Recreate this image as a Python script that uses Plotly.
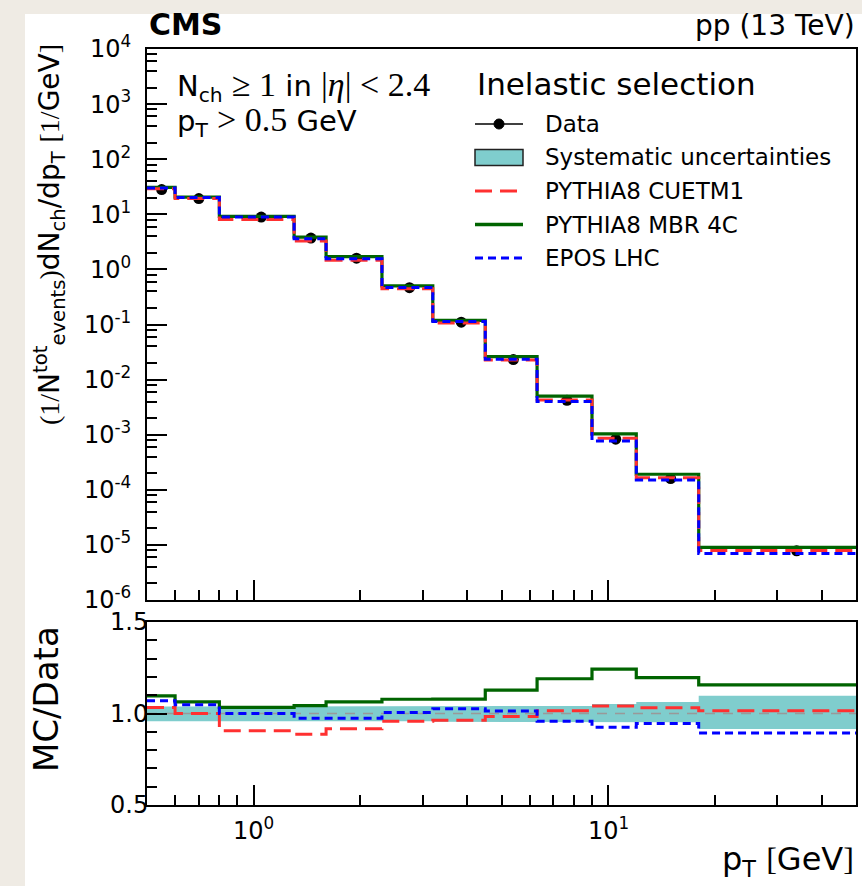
import numpy as np
import plotly.graph_objects as go

# ---------------- data ----------------
bin_edges = [0.5, 0.6, 0.8, 1.3, 1.6, 2.3, 3.2, 4.5, 6.3, 9.0, 12.0, 18.0, 50.0]
bin_centers = [0.55, 0.7, 1.05, 1.45, 1.95, 2.75, 3.85, 5.4, 7.65, 10.5, 15.0, 34.0]
data_vals = [28.1, 19.3, 8.9, 3.7, 1.6, 0.465, 0.110, 0.0231, 4.2e-3, 8.3e-4, 1.6e-4, 7.8e-6]

ratio_cuetm1 = [1.033, 1.000, 0.906, 0.887, 0.916, 0.958, 0.963, 0.983, 1.015, 1.041, 1.032, 1.015]
ratio_mbr4c = [1.096, 1.063, 1.033, 1.043, 1.064, 1.078, 1.079, 1.128, 1.190, 1.243, 1.196, 1.156]
ratio_epos = [1.069, 1.048, 1.000, 0.974, 0.974, 1.006, 1.026, 1.014, 0.958, 0.925, 0.946, 0.893]

sys_up = [0.038, 0.038, 0.038, 0.038, 0.038, 0.039, 0.041, 0.041, 0.041, 0.052, 0.063, 0.097]
sys_dn = [0.042, 0.042, 0.042, 0.042, 0.042, 0.043, 0.045, 0.045, 0.047, 0.047, 0.048, 0.085]

legend_labels = ["Data", "Systematic uncertainties", "PYTHIA8 CUETM1", "PYTHIA8 MBR 4C", "EPOS LHC"]

y_tick_vals = [1e-6, 1e-5, 1e-4, 1e-3, 1e-2, 1e-1, 1e0, 1e1, 1e2, 1e3, 1e4]
y_tick_text = ["10<sup>-6</sup>", "10<sup>-5</sup>", "10<sup>-4</sup>", "10<sup>-3</sup>",
               "10<sup>-2</sup>", "10<sup>-1</sup>", "10<sup>0</sup>", "10<sup>1</sup>",
               "10<sup>2</sup>", "10<sup>3</sup>", "10<sup>4</sup>"]
x_tick_vals = [1, 10]
x_tick_text = ["10<sup>0</sup>", "10<sup>1</sup>"]
r_tick_vals = [0.5, 1.0, 1.5]
r_tick_text = ["0.5", "1.0", "1.5"]

# ---------------- geometry ----------------
W, H = 862, 886
def px(x):
    return x / W
def py(y):
    return 1 - y / H

FONT = "DejaVu Sans"
SERIF = "Liberation Serif"
RED = "#ff3030"
GREEN = "#006400"
BLUE = "#0000ff"
TEAL = "#7fcdcd"
RED_DASH = "17px,8px"
BLUE_DASH = "8px,5px"

edges = np.array(bin_edges)
data = np.array(data_vals)

def step_y(vals):
    v = list(vals)
    return v + [v[-1]]

fig = go.Figure()

# ----- lower panel: systematic band -----
bx, byu, byl = [], [], []
for i in range(len(data)):
    bx += [edges[i], edges[i + 1]]
    byu += [1 + sys_up[i]] * 2
    byl += [1 - sys_dn[i]] * 2
fig.add_trace(go.Scatter(x=bx + bx[::-1], y=byu + byl[::-1], fill="toself",
                         fillcolor=TEAL, line=dict(width=0), mode="lines",
                         name=legend_labels[1],
                         xaxis="x2", yaxis="y2", showlegend=False, hoverinfo="skip"))
fig.add_trace(go.Scatter(x=[edges[0], edges[-1]], y=[1, 1], mode="lines",
                         line=dict(color="#999999", width=1.5, dash="10px,8px"),
                         xaxis="x2", yaxis="y2", showlegend=False, hoverinfo="skip"))

# ----- top panel: data -----
fig.add_trace(go.Scatter(x=bin_centers, y=data, mode="markers",
                         marker=dict(color="black", size=11, symbol="circle"),
                         xaxis="x", yaxis="y", showlegend=False, name=legend_labels[0]))

models = [
    (legend_labels[3], ratio_mbr4c, dict(color=GREEN, width=3.2)),
    (legend_labels[2], ratio_cuetm1, dict(color=RED, width=3, dash=RED_DASH)),
    (legend_labels[4], ratio_epos, dict(color=BLUE, width=3, dash=BLUE_DASH)),
]
for name, ratio, line in models:
    ratio = np.array(ratio)
    fig.add_trace(go.Scatter(x=edges, y=step_y(data * ratio), mode="lines", line_shape="hv",
                             line=line, name=name, xaxis="x", yaxis="y", showlegend=False))
    fig.add_trace(go.Scatter(x=edges, y=step_y(ratio), mode="lines", line_shape="hv",
                             line=line, name=name, xaxis="x2", yaxis="y2", showlegend=False))

xr = [np.log10(bin_edges[0]), np.log10(bin_edges[-1])]
minor_x = [0.6, 0.7, 0.8, 0.9, 2, 3, 4, 5, 6, 7, 8, 9, 20, 30, 40]
minor_y = [m * 10.0 ** k for k in range(-6, 4) for m in (2, 4, 6, 8)]

axis_common = dict(showline=True, linecolor="black", linewidth=2, mirror=True,
                   showgrid=False, zeroline=False, ticks="inside", tickcolor="black",
                   tickwidth=1.5, automargin=False,
                   tickfont=dict(family=FONT, size=24, color="black"))

# ----- manual legend (samples as shapes, labels as annotations) -----
leg_x0, leg_x1 = 475, 523
leg_text_x = 543
row_y = [124, 157.5, 191, 224.5, 258]

shapes = [dict(type="rect", xref="paper", yref="paper", x0=px(25), x1=1.0,
               y0=0, y1=py(14), fillcolor="white", line=dict(width=0), layer="below")]
# Data sample
shapes.append(dict(type="line", xref="paper", yref="paper", x0=px(leg_x0), x1=px(leg_x1),
                   y0=py(row_y[0]), y1=py(row_y[0]), line=dict(color="black", width=1.5)))
cx = (leg_x0 + leg_x1) / 2
shapes.append(dict(type="circle", xref="paper", yref="paper", x0=px(cx - 5), x1=px(cx + 5),
                   y0=py(row_y[0] + 5), y1=py(row_y[0] - 5), fillcolor="black",
                   line=dict(color="black", width=1)))
# Systematic sample
shapes.append(dict(type="rect", xref="paper", yref="paper", x0=px(leg_x0), x1=px(leg_x1),
                   y0=py(row_y[1] + 8), y1=py(row_y[1] - 8), fillcolor=TEAL,
                   line=dict(color="#222222", width=1.5)))
# model samples
for ry, ln in [(row_y[2], dict(color=RED, width=3, dash=RED_DASH)),
               (row_y[3], dict(color=GREEN, width=3.5)),
               (row_y[4], dict(color=BLUE, width=3, dash=BLUE_DASH))]:
    shapes.append(dict(type="line", xref="paper", yref="paper", x0=px(leg_x0), x1=px(leg_x1),
                       y0=py(ry), y1=py(ry), line=ln))

fig.update_layout(
    width=W, height=H, autosize=False,
    margin=dict(l=0, r=0, t=0, b=0, pad=0, autoexpand=False),
    paper_bgcolor="#efebe4", plot_bgcolor="white",
    font=dict(family=FONT, color="black"),
    showlegend=False,
    xaxis=dict(type="log", range=xr, domain=[px(147), px(856)], anchor="y",
               tickvals=x_tick_vals, showticklabels=False, ticklen=20,
               minor=dict(tickvals=minor_x, ticks="inside", ticklen=10, tickcolor="black"),
               **axis_common),
    yaxis=dict(type="log", range=[-6, 4], domain=[py(600), py(49)], anchor="x",
               tickvals=y_tick_vals, ticktext=y_tick_text, ticklen=20, ticklabelstandoff=9,
               minor=dict(tickvals=minor_y, ticks="inside", ticklen=10, tickcolor="black"),
               **axis_common),
    xaxis2=dict(type="log", range=xr, domain=[px(147), px(856)], anchor="y2",
                tickvals=x_tick_vals, showticklabels=False, ticklen=20,
                minor=dict(tickvals=minor_x, ticks="inside", ticklen=10, tickcolor="black"),
                **axis_common),
    yaxis2=dict(range=[0.5, 1.5], domain=[py(805), py(622)], anchor="x2",
                tickvals=r_tick_vals, ticktext=r_tick_text, ticklen=20, ticklabelstandoff=-8,
                minor=dict(dtick=0.1, ticks="inside", ticklen=10, tickcolor="black"),
                **axis_common),
    shapes=shapes,
)

S = "<span style='font-family:" + SERIF + ";font-size:34px'>"
ann = []
# x tick labels of the ratio panel, placed on the x2 (log) scale
for tv, tt in zip(x_tick_vals, x_tick_text):
    ann.append(dict(text=tt, x=np.log10(tv), xref="x2", y=py(829), yref="paper",
                    xanchor="center", yanchor="middle",
                    font=dict(family=FONT, size=24, color="black")))
ann.append(dict(text="<b>CMS</b>", x=px(147), y=py(44), xanchor="left", yanchor="bottom",
                font=dict(family=FONT, size=30)))
ann.append(dict(text="pp (13 TeV)", x=px(857), y=py(44), xanchor="right", yanchor="bottom",
                font=dict(family=FONT, size=28)))
ann.append(dict(text=("N<sub>ch</sub> " + S + "\u2265 1</span> in " +
                      S + "|<i>\u03b7</i>| &lt; 2.4</span>"),
                x=px(175), y=py(86), xanchor="left", yanchor="middle",
                font=dict(family=FONT, size=29)))
ann.append(dict(text="p<sub>T</sub> " + S + "&gt; 0.5</span> GeV",
                x=px(175), y=py(122), xanchor="left", yanchor="middle",
                font=dict(family=FONT, size=29)))
ann.append(dict(text="Inelastic selection", x=px(475), y=py(84), xanchor="left", yanchor="middle",
                font=dict(family=FONT, size=31)))
for lbl, ry in zip(legend_labels, row_y):
    ann.append(dict(text=lbl, x=px(leg_text_x), y=py(ry), xanchor="left", yanchor="middle",
                    font=dict(family=FONT, size=23)))
ann.append(dict(text=("<span style='font-family:" + SERIF + "'>(1/</span>N<sup>tot</sup><sub>events</sub>"
                      "<span style='font-family:" + SERIF + "'>)</span>dN<sub>ch</sub>/dp<sub>T</sub> "
                      "<span style='font-family:" + SERIF + "'>[1/</span>GeV<span style='font-family:" + SERIF + "'>]</span>"),
                x=px(50), y=py(235), xanchor="center", yanchor="middle", textangle=-90,
                font=dict(family=FONT, size=28)))
ann.append(dict(text="MC/Data", x=px(46), y=py(699), xanchor="center", yanchor="middle",
                textangle=-90, font=dict(family=FONT, size=34)))
ann.append(dict(text="p<sub>T</sub> <span style='font-family:" + SERIF + "'>[</span>GeV<span style='font-family:" + SERIF + "'>]</span>",
                x=px(856), y=py(884), xanchor="right", yanchor="bottom",
                font=dict(family=FONT, size=32)))
for a in ann:
    a.setdefault("xref", "paper")
    a.setdefault("yref", "paper")
    a["showarrow"] = False
fig.update_layout(annotations=ann)

fig.write_html("out.html")
